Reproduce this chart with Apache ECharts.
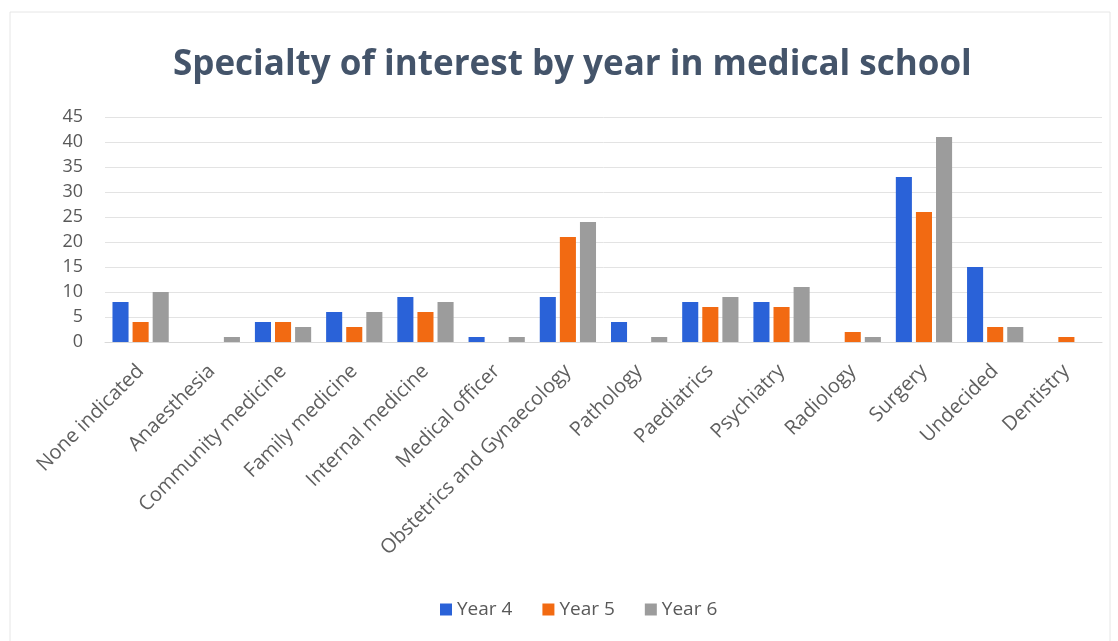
<!DOCTYPE html>
<html><head><meta charset="utf-8">
<script src="https://cdn.jsdelivr.net/npm/echarts@6/dist/echarts.min.js"></script>
<style>html,body{margin:0;padding:0;background:#fff}#c{width:1118px;height:641px}</style>
</head><body><div id="c"></div>
<script>
const categories = ["None indicated","Anaesthesia","Community medicine","Family medicine","Internal medicine","Medical officer","Obstetrics and Gynaecology","Pathology","Paediatrics","Psychiatry","Radiology","Surgery","Undecided","Dentistry"];
const year4 = [8,0,4,6,9,1,9,4,8,8,0,33,15,0];
const year5 = [4,0,4,3,6,0,21,0,7,7,2,26,3,1];
const year6 = [10,1,3,6,8,1,24,1,9,11,1,41,3,0];
const seriesNames = ["Year 4","Year 5","Year 6"];
const colors = ["#2a62d8","#f26a12","#9c9c9c"];
const font = "'Open Sans', 'Noto Sans', sans-serif";
const chart = echarts.init(document.getElementById('c'));
chart.setOption({
  animation:false,
  title:{text:"Specialty of interest by year in medical school",left:168,top:43,
    textStyle:{fontFamily:font,fontSize:35,fontWeight:'bold',color:'#44546a'}},
  legend:{bottom:17,left:435,itemWidth:12,itemHeight:12,itemGap:30,icon:'rect',
    textStyle:{fontFamily:font,fontSize:19,color:'#595959'}},
  grid:{left:105,right:16,top:117,bottom:299,containLabel:false},
  xAxis:{type:'category',data:categories,
    axisLine:{lineStyle:{color:'#d9d9d9'}},axisTick:{show:false},
    axisLabel:{rotate:45,interval:0,fontFamily:font,fontSize:20,color:'#5f5f5f',margin:26}},
  yAxis:{type:'value',min:0,max:45,interval:5,
    axisLine:{show:false},axisTick:{show:false},
    splitLine:{lineStyle:{color:'#e3e3e3'}},
    axisLabel:{fontFamily:font,fontSize:18,color:'#595959',margin:22}},
  series:[year4,year5,year6].map((d,i)=>({name:seriesNames[i],type:'bar',data:d,
    barGap:'25%',barCategoryGap:'21%',itemStyle:{color:colors[i]}})),
  graphic:[{type:'rect',shape:{x:10,y:12,width:1100,height:640},style:{fill:'none',stroke:'#e6e6e6',lineWidth:1},silent:true}]
});
</script></body></html>
